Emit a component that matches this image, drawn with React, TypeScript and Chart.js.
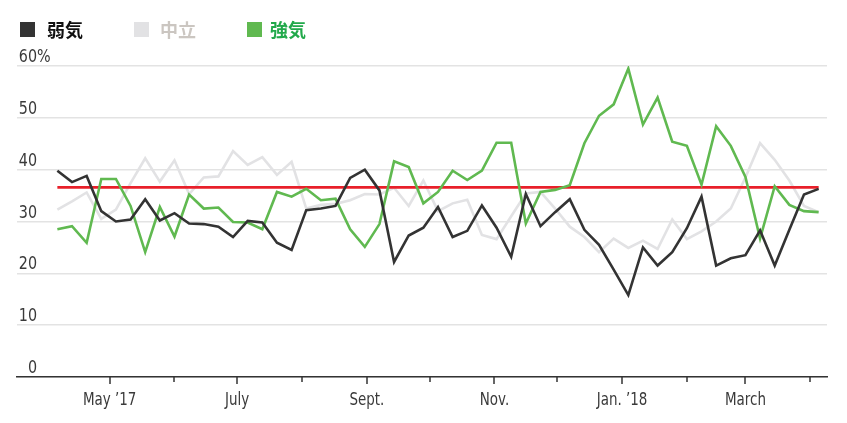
import { useEffect, useRef } from "react";
import { Chart, registerables } from "chart.js";
Chart.register(...registerables);

// weekly survey readings, days counted from Apr 6, 2017
const weekDays = Array.from({ length: 53 }, (_, i) => i * 7);

const bearish = [
  39.8, 37.6, 38.8, 32.0, 30.0, 30.4, 34.3, 30.2, 31.6, 29.6,
  29.5, 29.0, 27.0, 30.1, 29.8, 25.9, 24.5, 32.2, 32.5, 33.0,
  38.4, 40.0, 36.0, 22.2, 27.3, 28.8, 32.8, 27.0, 28.2, 33.1,
  28.8, 23.2, 35.3, 29.1, 31.8, 34.3, 28.4, 25.5, 20.7, 15.8,
  25.0, 21.5, 24.1, 28.7, 34.8, 21.5, 22.9, 23.5, 28.3, 21.5,
  28.4, 35.2, 36.3,
];

const neutral = [
  32.3, 33.9, 35.6, 30.5, 32.3, 37.4, 42.2, 37.7, 41.8, 35.3,
  38.5, 38.7, 43.6, 40.9, 42.4, 39.0, 41.5, 32.5, 33.2, 33.4,
  34.1, 35.3, 35.2, 36.5, 33.0, 37.9, 32.0, 33.5, 34.2, 27.4,
  26.6, 31.0, 35.4, 35.7, 32.5, 29.0, 27.0, 24.1, 26.7, 24.9,
  26.3, 24.7, 30.4, 26.6, 28.1, 30.0, 32.5, 38.5, 45.1, 41.9,
  37.9, 33.0, 31.8,
];

const bullish = [
  28.5, 29.1, 25.9, 38.2, 38.2, 33.0, 24.1, 32.8, 27.1, 35.2,
  32.5, 32.7, 29.9, 29.8, 28.5, 35.7, 34.8, 36.3, 34.1, 34.4,
  28.5, 25.1, 29.5, 41.6, 40.5, 33.5, 35.7, 39.8, 38.0, 39.8,
  45.2, 45.2, 29.6, 35.7, 36.1, 37.0, 45.1, 50.4, 52.6, 59.5,
  48.7, 53.9, 45.4, 44.6, 37.1, 48.4, 44.6, 38.6, 26.7, 36.8,
  33.2, 32.0, 31.8,
];

const averageLevel = 36.6;

const monthTickDays = [25, 56, 86, 117, 148, 178, 209, 239, 270, 301, 329, 360];
const monthTickLabels = ["May ’17", "", "July", "", "Sept.", "", "Nov.", "", "Jan. ’18", "", "March", ""];
const yTickValues = [0, 10, 20, 30, 40, 50, 60];

const legendItems = [
  { label: "弱気", box: "#333333", text: "#111111", left: 20, textLeft: 47 },
  { label: "中立", box: "#e2e2e4", text: "#cbc6c1", left: 134, textLeft: 160 },
  { label: "強気", box: "#60b950", text: "#22a94b", left: 247, textLeft: 270 },
];

const NARROW = '"DejaVu Sans Condensed", "Liberation Sans", sans-serif';

// squeeze text horizontally to mimic the narrow face of the original
function fillNarrow(ctx: CanvasRenderingContext2D, text: string, x: number, y: number, sx: number) {
  ctx.save();
  ctx.translate(x, y);
  ctx.scale(sx, 1);
  ctx.fillText(text, 0, 0);
  ctx.restore();
}

// axis marks and labels drawn from the scales
const axisPlugin = {
  id: "axisMarks",
  afterDraw(chart: any) {
    const { ctx, scales } = chart;
    const xs = scales.x;
    const ys = scales.y;
    const base = ys.getPixelForValue(0);
    ctx.save();
    ctx.strokeStyle = "#333";
    ctx.lineWidth = 1.5;
    monthTickDays.forEach((d, i) => {
      const px = Math.round(xs.getPixelForValue(d));
      const len = monthTickLabels[i] ? 7 : 5;
      ctx.beginPath();
      ctx.moveTo(px, base);
      ctx.lineTo(px, base + len);
      ctx.stroke();
    });

    ctx.fillStyle = "#3a3a3a";
    ctx.textBaseline = "alphabetic";
    ctx.font = `17px ${NARROW}`;
    ctx.textAlign = "center";
    monthTickDays.forEach((d, i) => {
      if (monthTickLabels[i]) fillNarrow(ctx, monthTickLabels[i], xs.getPixelForValue(d), 405, 0.88);
    });

    ctx.font = `18.5px ${NARROW}`;
    yTickValues.forEach((v) => {
      const py = ys.getPixelForValue(v) - 4;
      ctx.textAlign = "right";
      fillNarrow(ctx, String(v), 37, py, 0.86);
      if (v === 60) {
        ctx.textAlign = "left";
        fillNarrow(ctx, "%", 37, py, 0.86);
      }
    });
    ctx.restore();
  },
};

export default function App() {
  const canvasRef = useRef<HTMLCanvasElement | null>(null);

  useEffect(() => {
    if (!canvasRef.current) return;
    const ctx = canvasRef.current.getContext("2d");
    if (!ctx) return;

    const series = (vals: number[]) => weekDays.map((d, i) => ({ x: d, y: vals[i] }));

    const chart = new Chart(ctx, {
      type: "line",
      data: {
        datasets: [
          { label: "弱気", data: series(bearish), borderColor: "#333333", borderWidth: 2.6 },
          { label: "強気", data: series(bullish), borderColor: "#60b950", borderWidth: 2.6 },
          {
            label: "avg",
            data: [
              { x: weekDays[0], y: averageLevel },
              { x: weekDays[weekDays.length - 1], y: averageLevel },
            ],
            borderColor: "#e8202a",
            borderWidth: 2.8,
          },
          { label: "中立", data: series(neutral), borderColor: "#e2e2e4", borderWidth: 2.6 },
        ],
      },
      options: {
        animation: false,
        responsive: false,
        layout: { padding: { left: 17, right: 20, top: 66, bottom: 46 } },
        plugins: { legend: { display: false }, tooltip: { enabled: false } },
        elements: { point: { radius: 0 }, line: { tension: 0, borderJoinStyle: "miter" } },
        scales: {
          x: {
            type: "linear",
            min: -19.3,
            max: 368,
            ticks: { display: false },
            grid: { display: false, drawTicks: false },
            border: { display: true, color: "#333", width: 1.5 },
          },
          y: {
            min: 0,
            max: 60,
            ticks: { display: false, stepSize: 10 },
            grid: { color: "#e3e3e3", lineWidth: 1.5, drawTicks: false },
            border: { display: false },
          },
        },
      },
      plugins: [axisPlugin],
    });

    return () => chart.destroy();
  }, []);

  return (
    <div style={{ position: "fixed", left: 0, top: 0, width: 847, height: 423, background: "#fff" }}>
      <canvas ref={canvasRef} width={847} height={423} style={{ position: "absolute", left: 0, top: 0 }} />
      {legendItems.map((it) => (
        <div key={it.label}>
          <div
            style={{ position: "absolute", left: it.left, top: 22, width: 15, height: 15, background: it.box }}
          />
          <div
            style={{
              position: "absolute",
              left: it.textLeft,
              top: 17,
              fontFamily: '"Noto Sans CJK JP", sans-serif',
              fontWeight: 700,
              fontSize: 18,
              lineHeight: "24px",
              color: it.text,
            }}
          >
            {it.label}
          </div>
        </div>
      ))}
    </div>
  );
}
